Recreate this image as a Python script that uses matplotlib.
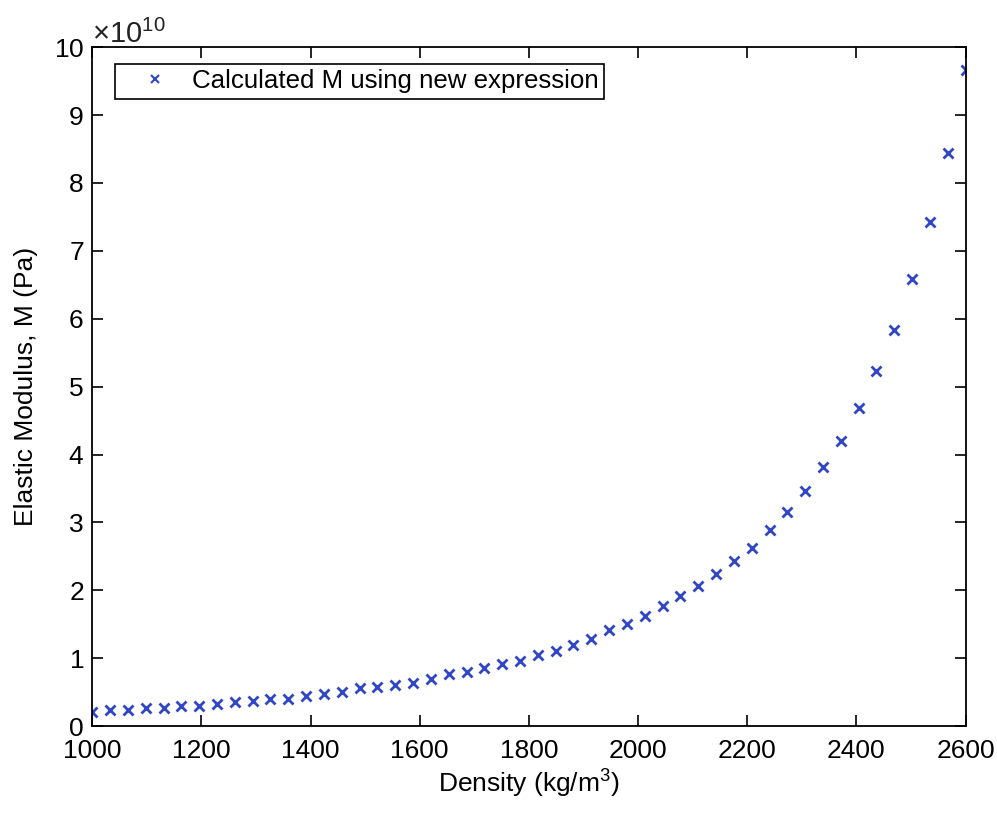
import numpy as np
import matplotlib
matplotlib.use("Agg")
import matplotlib.pyplot as plt
from matplotlib.ticker import ScalarFormatter, MultipleLocator

# Dichte (kg/m^3): 50 Stuetzstellen zwischen 1000 und 2600
dichte = [
    1000.0, 1032.7, 1065.3, 1098.0, 1130.6, 1163.3, 1195.9, 1228.6, 1261.2, 1293.9,
    1326.5, 1359.2, 1391.8, 1424.5, 1457.1, 1489.8, 1522.4, 1555.1, 1587.8, 1620.4,
    1653.1, 1685.7, 1718.4, 1751.0, 1783.7, 1816.3, 1849.0, 1881.6, 1914.3, 1946.9,
    1979.6, 2012.2, 2044.9, 2077.6, 2110.2, 2142.9, 2175.5, 2208.2, 2240.8, 2273.5,
    2306.1, 2338.8, 2371.4, 2404.1, 2436.7, 2469.4, 2502.0, 2534.7, 2567.3, 2600.0,
]

# Elastizitaetsmodul M in Einheiten von 1e10 Pa
modul_e10 = [
    0.21, 0.23, 0.23, 0.26, 0.26, 0.29, 0.29, 0.32, 0.35, 0.37,
    0.40, 0.40, 0.45, 0.47, 0.50, 0.56, 0.58, 0.61, 0.64, 0.70,
    0.76, 0.79, 0.85, 0.91, 0.96, 1.04, 1.10, 1.19, 1.28, 1.41,
    1.50, 1.62, 1.77, 1.91, 2.06, 2.24, 2.43, 2.63, 2.89, 3.15,
    3.47, 3.82, 4.20, 4.68, 5.23, 5.84, 6.58, 7.42, 8.44, 9.66,
]

legende = "Calculated M using new expression"


class FesteGroessenordnung(ScalarFormatter):
    """ScalarFormatter mit fest eingestelltem Exponenten (x10^10)."""

    def __init__(self, exponent):
        self.exponent = exponent
        super().__init__(useMathText=True)

    def _set_order_of_magnitude(self):
        self.orderOfMagnitude = self.exponent


plt.rcParams["font.family"] = ["Liberation Sans", "DejaVu Sans"]
plt.rcParams["mathtext.fontset"] = "custom"
plt.rcParams["mathtext.rm"] = "Liberation Sans"

fig = plt.figure(figsize=(9.97, 8.14), dpi=100)
ax = fig.add_axes([0.0925, 0.108, 0.876, 0.834])

modul = np.array(modul_e10) * 1e10
ax.plot(dichte, modul, linestyle="none", marker="x", markersize=7.5,
        markeredgewidth=2.0, color="#3046c6", label=legende)

ax.set_xlim(1000, 2600)
ax.set_ylim(0, 1e11)
ax.xaxis.set_major_locator(MultipleLocator(200))
ax.yaxis.set_major_locator(MultipleLocator(1e10))
ax.yaxis.set_major_formatter(FesteGroessenordnung(10))
ax.yaxis.get_offset_text().set_fontsize(21)
ax.yaxis.get_offset_text().set_color("#222222")

# Striche innen und auf allen vier Seiten
ax.tick_params(direction="in", length=8, width=1.2, labelsize=19,
               top=True, right=True, pad=6)
ax.tick_params(axis="x", pad=9.5)
for s in ax.spines.values():
    s.set_linewidth(1.3)

ax.set_xlabel("Density (kg/m$^3$)", fontsize=19, labelpad=2)
ax.set_ylabel("Elastic Modulus, M (Pa)", fontsize=19)
ax.yaxis.set_label_coords(-0.062, 0.5)

leg = ax.legend(loc="upper left", bbox_to_anchor=(0.026, 0.975),
                borderaxespad=0, fontsize=18.6, fancybox=False,
                edgecolor="black", framealpha=1, handlelength=2.7,
                handletextpad=0.1, borderpad=0.2)
leg.get_frame().set_linewidth(1.2)
leg.legend_handles[0].set_markersize(6)
leg.legend_handles[0].set_markeredgewidth(1.5)

fig.savefig("out.png", dpi=100)
